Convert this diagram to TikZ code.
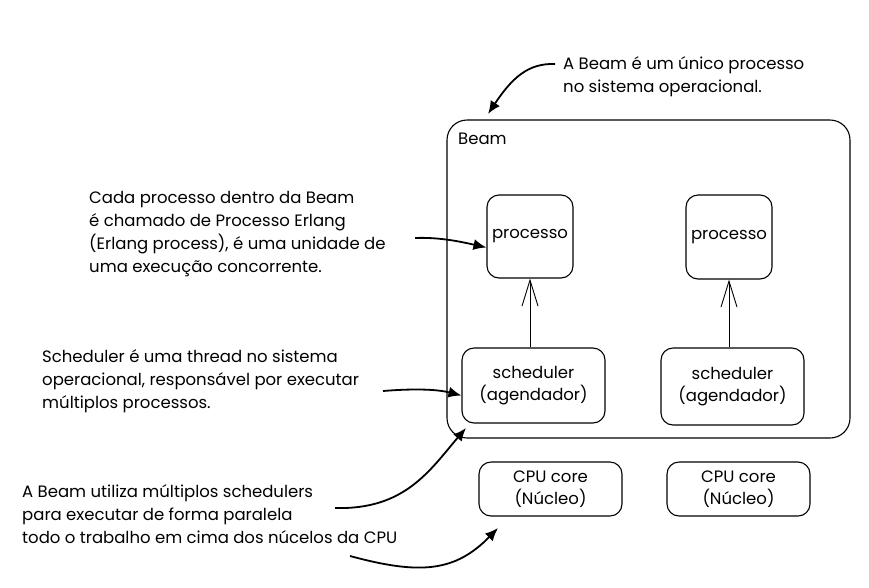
\documentclass[tikz,border=0pt]{standalone}
\usepackage{fontspec}
\setmainfont{Poppins}
\usetikzlibrary{arrows.meta,positioning}

\begin{document}
\begin{tikzpicture}[x=1pt,y=-1pt,
    box/.style={draw,line width=1.1pt,rounded corners=12pt,align=center,font=\fontsize{16.5}{22.5}\selectfont},
    note/.style={anchor=north west,inner sep=0pt,align=left,font=\fontsize{16.5}{23}\selectfont},
    note arrow/.style={line width=1.8pt,-{Latex[length=13pt,width=11pt]}},
    link/.style={line width=0.9pt,-{Straight Barb[length=26pt,width=16pt,line width=0.9pt]}}]
    \useasboundingbox (0,0) rectangle (869,587);
    \node[box,rounded corners=20pt,minimum width=403pt,minimum height=318pt] (beam) at (648.5,279) {};
    \node[anchor=north west,font=\fontsize{16.5}{22}\selectfont,inner sep=0pt] (beamlabel) at (458,133) {Beam};
    \node[box,minimum width=86pt,minimum height=83pt] (proc1) at (530,236.5) {processo};
    \node[box,minimum width=86pt,minimum height=84pt] (proc2) at (729,237) {processo};
    \node[box,minimum width=143pt,minimum height=75pt] (sched1) at (533.5,385.5) {scheduler\\(agendador)};
    \node[box,minimum width=143pt,minimum height=77pt] (sched2) at (732.5,386.5) {scheduler\\(agendador)};
    \node[box,minimum width=143pt,minimum height=54pt] (core1) at (550.5,489) {CPU core\\(Núcleo)};
    \node[box,minimum width=143pt,minimum height=54pt] (core2) at (738.5,489) {CPU core\\(Núcleo)};
    \draw[link] (sched1.north -| proc1.south) -- (proc1.south);
    \draw[link] (sched2.north -| proc2.south) -- (proc2.south);

    \node[note] (note1) at (563,56) {A Beam é um único processo\\no sistema operacional.};
    \node[note] (note2) at (89,191) {Cada processo dentro da Beam\\é chamado de Processo Erlang\\(Erlang process), é uma unidade de\\uma execução concorrente.};
    \node[note] (note3) at (42,349) {Scheduler é uma thread no sistema\\operacional, responsável por executar\\múltiplos processos.};
    \node[note] (note4) at (22,484) {A Beam utiliza múltiplos schedulers\\para executar de forma paralela\\todo o trabalho em cima dos núcelos da CPU};

    \coordinate (n1out) at (555,64);
    \coordinate (n2out) at (415,238);
    \coordinate (n3out) at (383,391);
    \coordinate (n4out) at (335,508);
    \coordinate (n5out) at (350,556);
    \coordinate (beamin) at (488,114);
    \coordinate (cornerin) at (466,428);
    \coordinate (corein) at (498,528);
    \draw[note arrow] (n1out) .. controls (528,63) and (512,78) .. (beamin);
    \draw[note arrow] (n2out) .. controls (440,237) and (462,242) .. ([yshift=-11pt]proc1.west);
    \draw[note arrow] (n3out) .. controls (420,388) and (440,390) .. ([yshift=-10pt]sched1.west);
    \draw[note arrow] (n4out) .. controls (405,510) and (430,470) .. (cornerin);
    \draw[note arrow] (n5out) .. controls (420,575) and (455,572) .. (corein);
\end{tikzpicture}
\end{document}
